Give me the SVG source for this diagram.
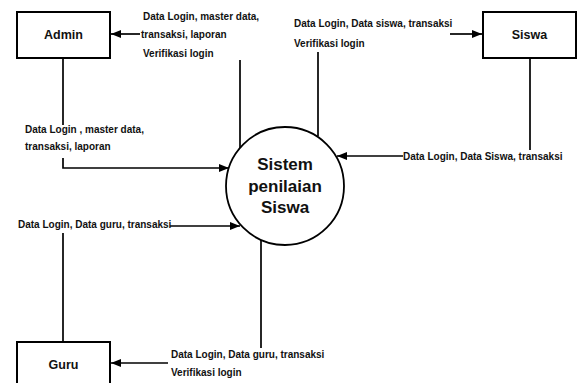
<svg xmlns="http://www.w3.org/2000/svg" width="577" height="383" viewBox="0 0 577 383">
<defs>
<marker id="ah" viewBox="0 0 10 8" refX="10" refY="4" markerWidth="10" markerHeight="8" markerUnits="userSpaceOnUse" orient="auto">
<path d="M0,0 L10,4 L0,8 Z" fill="#000"/>
</marker>
<style>
.box{fill:#fff;stroke:#000;stroke-width:2}
.proc{fill:#fff;stroke:#000;stroke-width:1.8}
.ln{fill:none;stroke:#000;stroke-width:1.7}
.arr{fill:none;stroke:#000;stroke-width:1.7;marker-end:url(#ah)}
.lbl{font-family:"Liberation Sans",Arial,sans-serif;font-weight:bold;font-size:10px;fill:#111}
.nt{font-family:"Liberation Sans",Arial,sans-serif;font-weight:bold;font-size:12.5px;fill:#111;text-anchor:middle}
.pt{font-family:"Liberation Sans",Arial,sans-serif;font-weight:bold;font-size:17px;fill:#111;text-anchor:middle}
</style>
</defs>
<rect width="577" height="383" fill="#fff"/>
<g id="connectors">
<line class="ln" x1="240" y1="148" x2="240" y2="60"/>
<line class="arr" x1="140" y1="34" x2="111" y2="34"/>
<line class="ln" x1="63" y1="58" x2="63" y2="125"/>
<polyline class="arr" points="63,158 63,168 229,168"/>
<line class="ln" x1="318" y1="136" x2="318" y2="52"/>
<line class="arr" x1="450" y1="34" x2="482" y2="34"/>
<line class="ln" x1="530" y1="58" x2="530" y2="150"/>
<line class="arr" x1="403" y1="156" x2="337" y2="156"/>
<line class="ln" x1="63" y1="342" x2="63" y2="233"/>
<line class="arr" x1="170" y1="226" x2="240" y2="226"/>
<line class="ln" x1="261" y1="240" x2="261" y2="348"/>
<line class="arr" x1="168" y1="363" x2="111" y2="363"/>
</g>
<g id="labels">
<text class="lbl" x="143" y="20">Data Login, master data,</text>
<text class="lbl" x="141" y="38">transaksi, laporan</text>
<text class="lbl" x="143" y="57">Verifikasi login</text>
<text class="lbl" x="25" y="133">Data Login , master data,</text>
<text class="lbl" x="25" y="150">transaksi, laporan</text>
<text class="lbl" x="294" y="27">Data Login, Data siswa, transaksi</text>
<text class="lbl" x="294" y="47">Verifikasi login</text>
<text class="lbl" x="403" y="160">Data Login, Data Siswa, transaksi</text>
<text class="lbl" x="18" y="228">Data Login, Data guru, transaksi</text>
<text class="lbl" x="171" y="358">Data Login, Data guru, transaksi</text>
<text class="lbl" x="171" y="376">Verifikasi login</text>
</g>
<g id="admin">
<rect class="box" x="17" y="12" width="93" height="46"/>
<text class="nt" x="63.5" y="39">Admin</text>
</g>
<g id="siswa">
<rect class="box" x="483" y="12" width="93" height="46"/>
<text class="nt" x="529.5" y="39">Siswa</text>
</g>
<g id="guru">
<rect class="box" x="17" y="342" width="93" height="50"/>
<text class="nt" x="63.5" y="369">Guru</text>
</g>
<g id="sistem">
<circle class="proc" cx="285" cy="186" r="59"/>
<text class="pt" x="285" y="170">Sistem</text>
<text class="pt" x="285" y="191.5">penilaian</text>
<text class="pt" x="285" y="213">Siswa</text>
</g>
</svg>
